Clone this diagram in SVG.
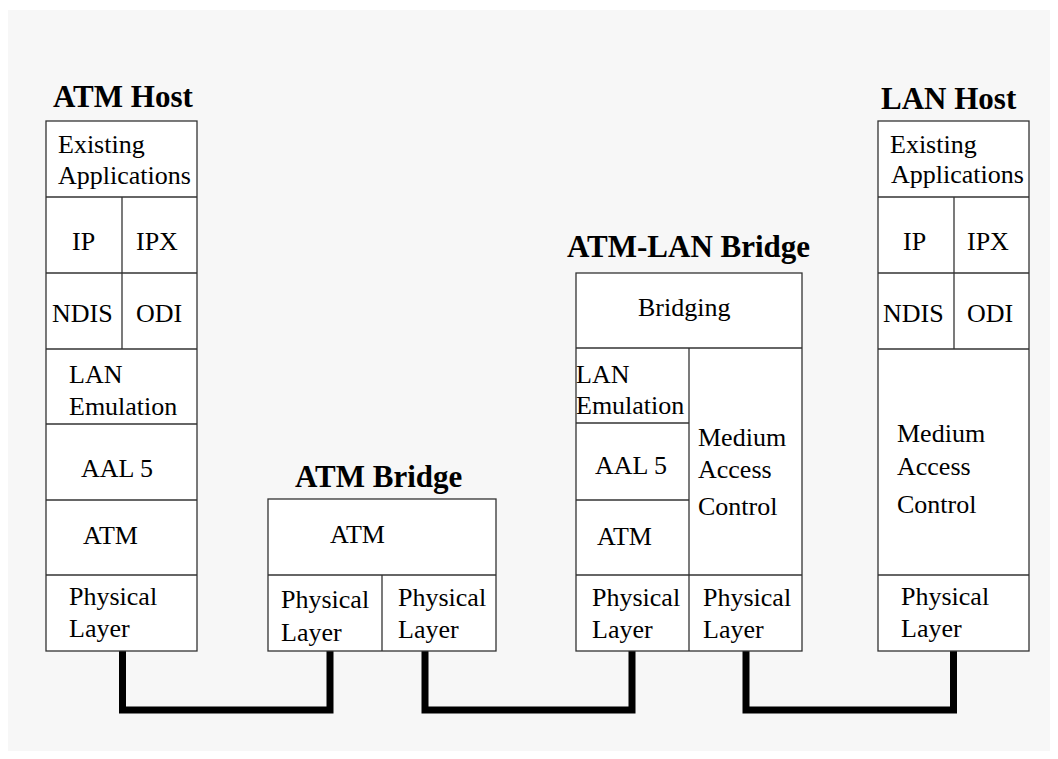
<svg xmlns="http://www.w3.org/2000/svg" width="1058" height="759" viewBox="0 0 1058 759">
<style>
.bg{fill:#f7f7f7}
.box{fill:#ffffff;stroke:#333333;stroke-width:1.3}
.ln{stroke:#333333;stroke-width:1.3;fill:none}
.t{font-family:'Liberation Serif','DejaVu Serif',serif;font-size:26px;fill:#000}
.h{font-family:'Liberation Serif','DejaVu Serif',serif;font-size:31px;font-weight:bold;fill:#000}
.wire{stroke:#000;stroke-width:7;fill:none;stroke-linejoin:miter}
</style>
<rect class="bg" x="8" y="10" width="1042" height="741"/>
<g id="connectors">
<polyline class="wire" points="122.5,651 122.5,710 330,710 330,651"/>
<polyline class="wire" points="425,651 425,710 632,710 632,651"/>
<polyline class="wire" points="746,651 746,710 953.5,710 953.5,651"/>
</g>
<g id="atm-host" font-family="Liberation Serif, DejaVu Serif, serif">
<text class="h" x="53" y="107">ATM Host</text>
<rect class="box" x="46" y="121" width="151" height="530"/>
<line class="ln" x1="46" y1="197" x2="197" y2="197"/>
<line class="ln" x1="46" y1="273" x2="197" y2="273"/>
<line class="ln" x1="46" y1="349" x2="197" y2="349"/>
<line class="ln" x1="46" y1="424" x2="197" y2="424"/>
<line class="ln" x1="46" y1="500" x2="197" y2="500"/>
<line class="ln" x1="46" y1="575" x2="197" y2="575"/>
<line class="ln" x1="122" y1="197" x2="122" y2="349"/>
<text class="t" x="58" y="153">Existing</text>
<text class="t" x="58" y="184">Applications</text>
<text class="t" x="72" y="250">IP</text>
<text class="t" x="136" y="250">IPX</text>
<text class="t" x="52" y="322">NDIS</text>
<text class="t" x="136" y="322">ODI</text>
<text class="t" x="69" y="383">LAN</text>
<text class="t" x="69" y="415">Emulation</text>
<text class="t" x="81" y="477">AAL 5</text>
<text class="t" x="83" y="544">ATM</text>
<text class="t" x="69" y="605">Physical</text>
<text class="t" x="69" y="637">Layer</text>
</g>
<g id="atm-bridge">
<text class="h" x="295" y="487">ATM Bridge</text>
<rect class="box" x="268" y="499" width="228" height="152"/>
<line class="ln" x1="268" y1="575" x2="496" y2="575"/>
<line class="ln" x1="382" y1="575" x2="382" y2="651"/>
<text class="t" x="330" y="543">ATM</text>
<text class="t" x="281" y="608">Physical</text>
<text class="t" x="281" y="641">Layer</text>
<text class="t" x="398" y="606">Physical</text>
<text class="t" x="398" y="638">Layer</text>
</g>
<g id="atm-lan-bridge">
<text class="h" x="567" y="257">ATM-LAN Bridge</text>
<rect class="box" x="576" y="273" width="226" height="378"/>
<line class="ln" x1="576" y1="348" x2="802" y2="348"/>
<line class="ln" x1="576" y1="423" x2="689" y2="423"/>
<line class="ln" x1="576" y1="500" x2="689" y2="500"/>
<line class="ln" x1="576" y1="575" x2="802" y2="575"/>
<line class="ln" x1="689" y1="348" x2="689" y2="651"/>
<text class="t" x="638" y="316">Bridging</text>
<text class="t" x="576" y="383">LAN</text>
<text class="t" x="576" y="414">Emulation</text>
<text class="t" x="595" y="474">AAL 5</text>
<text class="t" x="597" y="545">ATM</text>
<text class="t" x="698" y="446">Medium</text>
<text class="t" x="698" y="478">Access</text>
<text class="t" x="698" y="515">Control</text>
<text class="t" x="592" y="606">Physical</text>
<text class="t" x="592" y="638">Layer</text>
<text class="t" x="703" y="606">Physical</text>
<text class="t" x="703" y="638">Layer</text>
</g>
<g id="lan-host">
<text class="h" x="881" y="109">LAN Host</text>
<rect class="box" x="878" y="121" width="151" height="530"/>
<line class="ln" x1="878" y1="197" x2="1029" y2="197"/>
<line class="ln" x1="878" y1="273" x2="1029" y2="273"/>
<line class="ln" x1="878" y1="349" x2="1029" y2="349"/>
<line class="ln" x1="878" y1="575" x2="1029" y2="575"/>
<line class="ln" x1="954" y1="197" x2="954" y2="349"/>
<text class="t" x="890" y="153">Existing</text>
<text class="t" x="891" y="183">Applications</text>
<text class="t" x="903" y="250">IP</text>
<text class="t" x="967" y="250">IPX</text>
<text class="t" x="883" y="322">NDIS</text>
<text class="t" x="967" y="322">ODI</text>
<text class="t" x="897" y="442">Medium</text>
<text class="t" x="897" y="475">Access</text>
<text class="t" x="897" y="513">Control</text>
<text class="t" x="901" y="605">Physical</text>
<text class="t" x="901" y="637">Layer</text>
</g>
</svg>
